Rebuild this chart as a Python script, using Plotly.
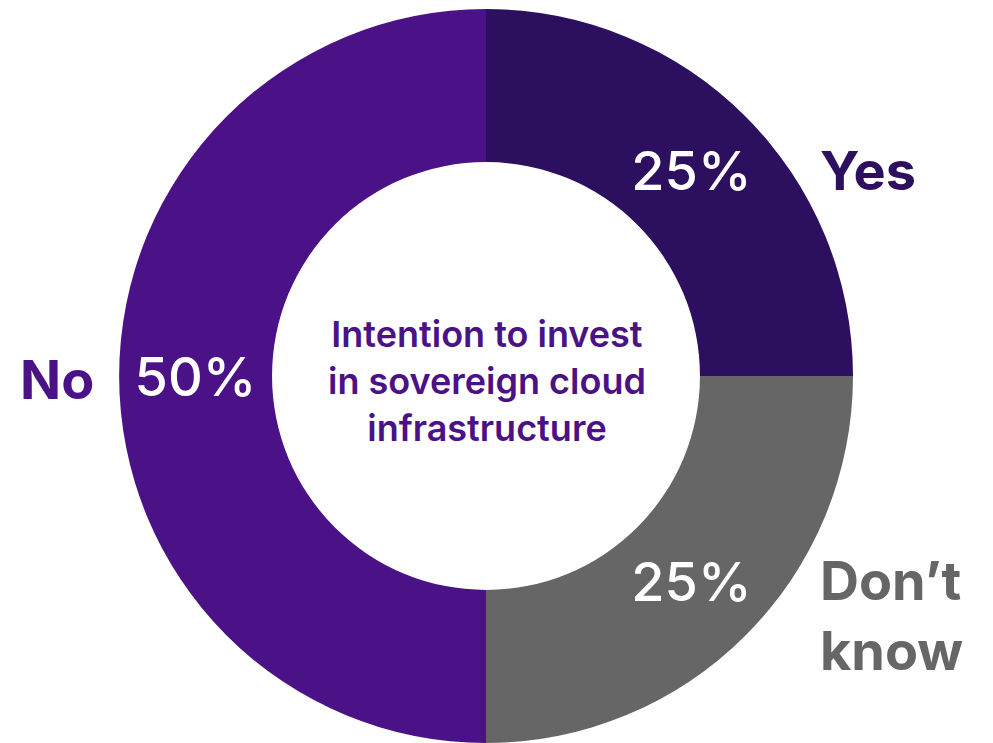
import plotly.graph_objects as go

# Survey responses: intention to invest in sovereign cloud infrastructure
categories = ["Yes", "Don’t know", "No"]
shares = [25, 25, 50]
slice_colors = ["#2c0f5f", "#666666", "#4b1186"]
center_title = "Intention to invest<br>in sovereign cloud<br>infrastructure"

W, H = 993, 743
cx, cy, r = 486, 376, 367  # pixel centre and outer radius of the ring

FONT = "Inter"

fig = go.Figure(
    go.Pie(
        labels=categories,
        values=shares,
        sort=False,
        direction="clockwise",
        rotation=0,
        hole=0.583,
        marker=dict(colors=slice_colors, line=dict(width=0)),
        texttemplate="%{value}%",
        textposition="inside",
        insidetextorientation="horizontal",
        textfont=dict(family=FONT, size=54, color="white", weight=500),
        showlegend=False,
        hoverinfo="label+value",
        domain=dict(
            x=[(cx - r) / W, (cx + r) / W],
            y=[(H - cy - r) / H, (H - cy + r) / H],
        ),
    )
)

def px(x, y):
    return x / W, 1 - y / H

annotations = []
# centre caption
x0, y0 = px(cx + 1, 381)
annotations.append(dict(
    x=x0, y=y0, xref="paper", yref="paper", text=center_title,
    showarrow=False, align="center", xanchor="center", yanchor="middle",
    font=dict(family=FONT, size=36, color="#4b1186", weight=600),
))
# outer category labels
label_pos = {
    "Yes": (818, 170, "left"),
    "No": (96, 379, "right"),
    "Don’t know": (818, 615, "left"),
}
for name, col in zip(categories, slice_colors):
    lx, ly, side = label_pos[name]
    ax, ay = px(lx, ly)
    annotations.append(dict(
        x=ax, y=ay, xref="paper", yref="paper",
        text=name.replace(" ", "<br>"), showarrow=False,
        align="left", xanchor=side, yanchor="middle",
        font=dict(family=FONT, size=54, color=col, weight=700),
    ))

fig.update_layout(
    width=W, height=H,
    margin=dict(l=0, r=0, t=0, b=0),
    paper_bgcolor="white", plot_bgcolor="white",
    annotations=annotations,
)

fig.write_html("out.html")
